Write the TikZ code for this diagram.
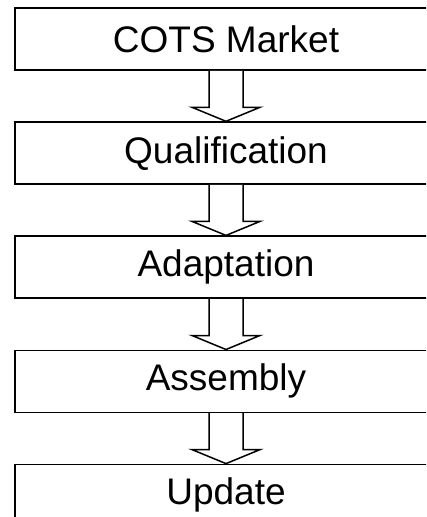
\documentclass[tikz,border=0pt]{standalone}
\usepackage{fontspec}
\setmainfont{Liberation Sans}
\usetikzlibrary{positioning}

\tikzset{
  stagebox/.style={draw, line width=1.6pt, minimum width=422pt, minimum height=62pt,
    inner sep=0pt, font=\fontsize{37}{44}\selectfont},
  blockarrow/.style={draw, line width=1.5pt, fill=white, line join=miter}
}

\begin{document}
\begin{tikzpicture}[x=1pt, y=-1pt, node distance=50.5pt]
    % Page frame
    \useasboundingbox (0,0) rectangle (426,517);
    \clip (0,0) rectangle (426,517);

    % Stages
    \node[stagebox] (market) at (226,39) {COTS Market};
    \node[stagebox, below=of market] (qual) {Qualification};
    \node[stagebox, below=of qual] (adapt) {Adaptation};
    \node[stagebox, below=of adapt] (assem) {Assembly};
    \node[stagebox, below=of assem] (update) {Update};

    % Hollow arrows between stages
    \foreach \a/\b in {market/qual, qual/adapt, adapt/assem, assem/update}
        \draw[blockarrow] ([xshift=-17pt]\a.south) -- ([xshift=-17pt,yshift=14pt]\b.north)
            -- ([xshift=-34pt,yshift=14pt]\b.north) -- (\b.north)
            -- ([xshift=34pt,yshift=14pt]\b.north) -- ([xshift=17pt,yshift=14pt]\b.north)
            -- ([xshift=17pt]\a.south);
\end{tikzpicture}
\end{document}
